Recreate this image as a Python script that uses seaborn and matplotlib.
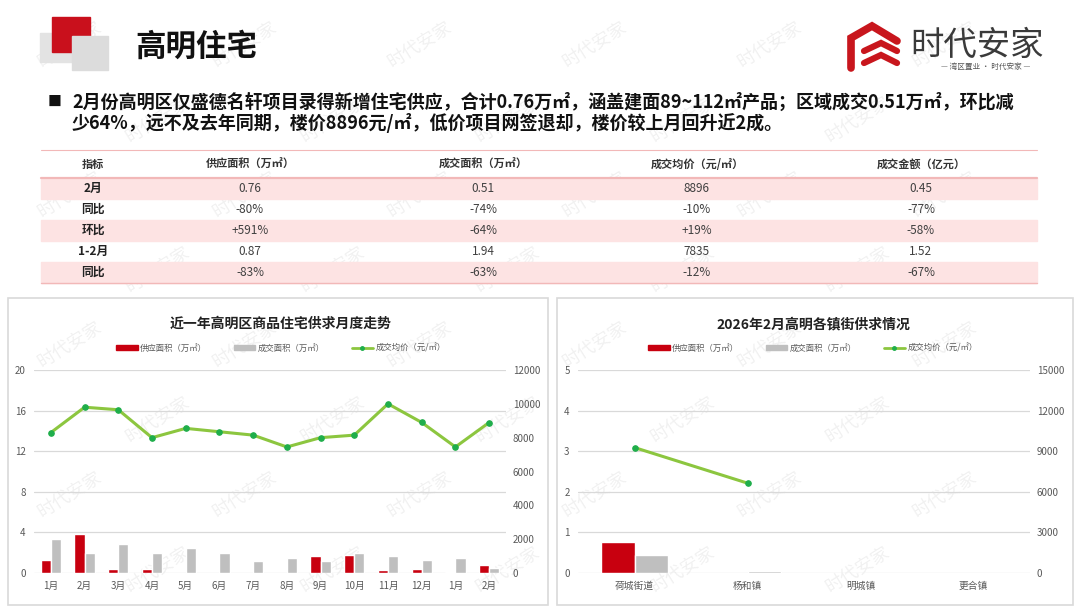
import numpy as np
import pandas as pd
import matplotlib.pyplot as plt
import seaborn as sns
from matplotlib.patches import Rectangle
from matplotlib.lines import Line2D

sns.set_theme(style="white")
plt.rcParams['font.family'] = ['Noto Sans CJK SC', 'DejaVu Sans']

RED = "#c8000f"
GRAY = "#bfbfbf"
GREEN = "#8cc63f"
DOT = "#1fae4b"
TXT = "#595959"

# ---- table data
tbl_cols = ["指标", "供应面积（万㎡）", "成交面积（万㎡）", "成交均价（元/㎡）", "成交金额（亿元）"]
tbl_rows = ["2月", "同比", "环比", "1-2月", "同比"]
tbl_supply = ["0.76", "-80%", "+591%", "0.87", "-83%"]
tbl_deal = ["0.51", "-74%", "-64%", "1.94", "-63%"]
tbl_price = ["8896", "-10%", "+19%", "7835", "-12%"]
tbl_amount = ["0.45", "-77%", "-58%", "1.52", "-67%"]

# ---- monthly trend
months = ["1月", "2月", "3月", "4月", "5月", "6月", "7月", "8月", "9月", "10月", "11月", "12月", "1月", "2月"]
month_key = ["2025-01", "2025-02", "2025-03", "2025-04", "2025-05", "2025-06", "2025-07",
             "2025-08", "2025-09", "2025-10", "2025-11", "2025-12", "2026-01", "2026-02"]
supply_m = [1.3, 3.8, 0.4, 0.4, 0, 0, 0, 0, 1.65, 1.8, 0.25, 0.4, 0.11, 0.76]
deal_m = [3.35, 2.0, 2.9, 2.0, 2.5, 2.0, 1.15, 1.5, 1.15, 2.0, 1.65, 1.25, 1.43, 0.51]
price_m = [8300, 9800, 9650, 8000, 8550, 8350, 8150, 7450, 8000, 8150, 10000, 8900, 7450, 8896]

# ---- towns, Feb 2026
towns = ["荷城街道", "杨和镇", "明城镇", "更合镇"]
supply_t = [0.76, 0, 0, 0]
deal_t = [0.45, 0.06, 0, 0]
price_t = [9270, 6640, np.nan, np.nan]

lab_supply = "供应面积（万㎡）"
lab_deal = "成交面积（万㎡）"
lab_price = "成交均价（元/㎡）"

W, H = 1080, 608
fig = plt.figure(figsize=(W / 100, H / 100), dpi=100)
fig.patch.set_facecolor("white")


def box(l, t, r, b):
    return [l / W, 1 - b / H, (r - l) / W, (b - t) / H]


bg = fig.add_axes([0, 0, 1, 1], zorder=0)
bg.set_xlim(0, W)
bg.set_ylim(H, 0)
bg.axis("off")

# watermark, kept inside the page
for row in range(8):
    y = 45 + row * 75
    x = 70 + (row % 2) * 88
    while x < 1020:
        bg.text(x, y, "时代安家", rotation=32, fontsize=13, color="#000000", alpha=0.06,
                ha="center", va="center", zorder=0)
        x += 175

# header decoration
bg.add_patch(Rectangle((40, 33), 32, 29, color="#e3e3e3", zorder=1))
bg.add_patch(Rectangle((52, 17), 38, 35, color="#c9101c", zorder=2))
bg.add_patch(Rectangle((72, 36), 36, 34, color="#dcdcdc", zorder=3))
bg.text(135, 47, "高明住宅", fontsize=22, fontweight="bold", color="#111111", va="center", zorder=4)

# logo
bg.plot([851, 851, 872, 897], [68, 38, 26, 41], color="#c8161d", lw=5.5, solid_joinstyle="miter", zorder=4)
bg.plot([864, 881, 897], [51, 43, 51], color="#c8161d", lw=4.5, solid_joinstyle="miter", zorder=4)
bg.plot([864, 881, 897], [63, 55, 63], color="#c8161d", lw=4.5, solid_joinstyle="miter", zorder=4)
bg.text(910, 45, "时代安家", fontsize=24, fontweight="medium", color="#3a3a3a", va="center", zorder=4)
bg.text(986, 67, "— 湾区置业 · 时代安家 —", fontsize=5.5, color="#555555", ha="center", va="center", zorder=4)

# summary text
bg.text(48, 102, "■", fontsize=10, color="#111111", va="center", zorder=4)
bg.text(72, 102, "2月份高明区仅盛德名轩项目录得新增住宅供应，合计0.76万㎡，涵盖建面89~112㎡产品；区域成交0.51万㎡，环比减",
        fontsize=13, fontweight="bold", color="#111111", va="center", zorder=4)
bg.text(72, 123, "少64%，远不及去年同期，楼价8896元/㎡，低价项目网签退却，楼价较上月回升近2成。",
        fontsize=13, fontweight="bold", color="#111111", va="center", zorder=4)

# table
tx0, tx1 = 41, 1037
col_x = [93, 250, 483, 697, 921]
row_top = [178, 199, 220, 241, 262]
row_h = 20.5
for i, top in enumerate(row_top):
    if i % 2 == 0:
        bg.add_patch(Rectangle((tx0, top), tx1 - tx0, row_h, color="#fde3e3", zorder=1))
bg.plot([tx0, tx1], [150, 150], color="#f2b8b8", lw=0.8, zorder=2)
bg.plot([tx0, tx1], [177.5, 177.5], color="#f2b8b8", lw=1.6, zorder=2)
bg.plot([tx0, tx1], [282.5, 282.5], color="#f2b8b8", lw=1.0, zorder=2)
for x, c in zip(col_x, tbl_cols):
    bg.text(x, 164, c, fontsize=8, fontweight="bold", color="#333333", ha="center", va="center", zorder=4)
columns = [tbl_rows, tbl_supply, tbl_deal, tbl_price, tbl_amount]
for j, vals in enumerate(columns):
    for i, v in enumerate(vals):
        bg.text(col_x[j], row_top[i] + row_h / 2, v, fontsize=8.5,
                fontweight="bold" if j == 0 else "normal",
                color="#222222" if j == 0 else "#404040", ha="center", va="center", zorder=4)

# panels
bg.add_patch(Rectangle((8, 298), 540, 307, fill=False, ec="#d9d9d9", lw=1.2, zorder=1))
bg.add_patch(Rectangle((557, 298), 516, 307, fill=False, ec="#d9d9d9", lw=1.2, zorder=1))


def legend_handles():
    return [Rectangle((0, 0), 1, 1, color=RED), Rectangle((0, 0), 1, 1, color=GRAY),
            Line2D([0], [0], color=GREEN, lw=2, marker="o", markersize=2.5,
                   markerfacecolor=DOT, markeredgecolor=DOT)]


def draw_chart(rect, keys, labels, supply, deal, price, ymax, ystep, y2max, y2step, title, cx):
    ax = fig.add_axes(rect, zorder=2)
    ax.patch.set_alpha(0)
    df = pd.DataFrame({"key": keys * 2, "value": supply + deal,
                       "series": [lab_supply] * len(keys) + [lab_deal] * len(keys)})
    sns.barplot(data=df, x="key", y="value", hue="series", order=keys,
                palette=[RED, GRAY], width=0.6, saturation=1, legend=False, ax=ax, zorder=2)
    ax2 = ax.twinx()
    sns.lineplot(x=np.arange(len(keys)), y=price, ax=ax2, color=GREEN, lw=2.2,
                 marker="o", markersize=4, markerfacecolor=DOT, markeredgecolor=DOT, zorder=3)
    ax.set_xlim(-0.5, len(keys) - 0.5)
    ax.set_ylim(0, ymax)
    ax.set_yticks(np.arange(0, ymax + 0.01, ystep))
    ax2.set_ylim(0, y2max)
    ax2.set_yticks(np.arange(0, y2max + 1, y2step))
    ax.set_xticks(range(len(keys)))
    ax.set_xticklabels(labels)
    ax.set_xlabel("")
    ax.set_ylabel("")
    ax2.set_ylabel("")
    ax.grid(axis="y", color="#d9d9d9", lw=0.9)
    ax.set_axisbelow(True)
    for a in (ax, ax2):
        for s in a.spines.values():
            s.set_visible(False)
        a.tick_params(length=0, labelsize=7, colors=TXT)
    ax.tick_params(axis="y", pad=6)
    ax.tick_params(axis="x", pad=6)
    ax2.tick_params(axis="y", pad=5)
    fig.text(cx / W, 1 - 324 / H, title, fontsize=10, fontweight="bold", color="#222222",
             ha="center", va="center")
    fig.legend(legend_handles(), [lab_supply, lab_deal, lab_price], loc="center",
               bbox_to_anchor=(cx / W, 1 - 348 / H), ncol=3, frameon=False, fontsize=6,
               handlelength=2.6, handleheight=0.6, handletextpad=0.3, columnspacing=3.2,
               labelcolor=TXT)
    return ax, ax2


draw_chart(box(34, 370, 506, 573), month_key, months, supply_m, deal_m, price_m,
           20, 4, 12000, 2000, "近一年高明区商品住宅供求月度走势", 281)
draw_chart(box(578, 370, 1030, 573), towns, towns, supply_t, deal_t, price_t,
           5, 1, 15000, 3000, "2026年2月高明各镇街供求情况", 813)

fig.savefig("out.png", dpi=100, facecolor="white")
